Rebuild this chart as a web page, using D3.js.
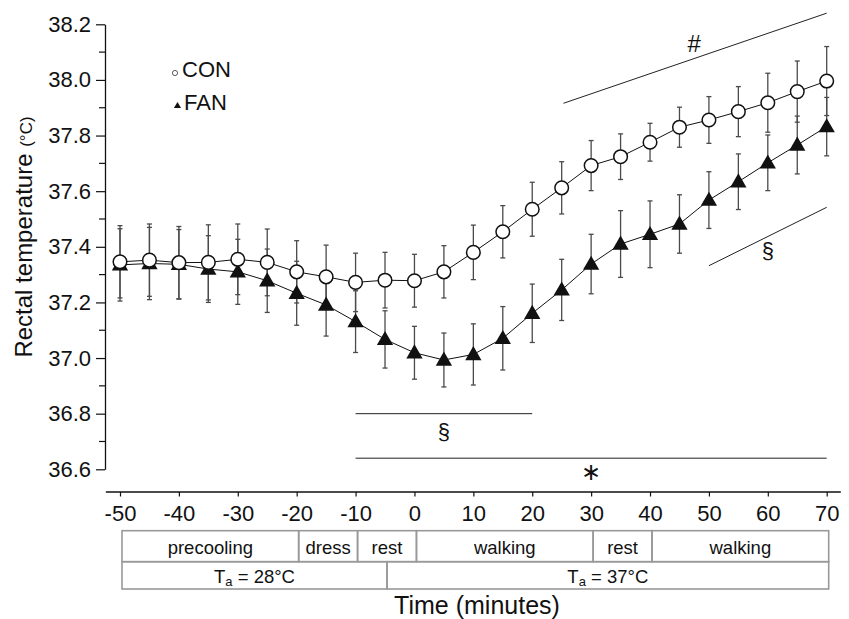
<!DOCTYPE html>
<html>
<head>
<meta charset="utf-8">
<script src="https://cdn.jsdelivr.net/npm/d3@7"></script>
<style>
  body { margin: 0; background: #fff; }
  svg { font-family: "Liberation Sans", Arial, sans-serif; }
</style>
</head>
<body>
<div id="chart"></div>
<script>
// minutes relative to start of walking
const times = [-50, -45, -40, -35, -30, -25, -20, -15, -10, -5, 0, 5, 10, 15, 20, 25, 30, 35, 40, 45, 50, 55, 60, 65, 70]
const conMean = [37.346, 37.352, 37.343, 37.344, 37.355, 37.344, 37.31, 37.292, 37.272, 37.28, 37.278, 37.31, 37.38,
    37.454, 37.535, 37.612, 37.692, 37.724, 37.776, 37.83, 37.856, 37.886, 37.918, 37.958, 37.996]
const conSd = [0.13, 0.13, 0.13, 0.135, 0.127, 0.12, 0.112, 0.114, 0.105, 0.1, 0.095, 0.094, 0.098,
    0.094, 0.097, 0.094, 0.09, 0.082, 0.068, 0.072, 0.084, 0.09, 0.106, 0.11, 0.124]
const fanMean = [37.335, 37.34, 37.337, 37.32, 37.31, 37.278, 37.233, 37.191, 37.131, 37.067, 37.019, 36.993, 37.013,
    37.071, 37.161, 37.245, 37.338, 37.41, 37.445, 37.482, 37.568, 37.634, 37.702, 37.766, 37.832]
const fanSd = [0.13, 0.13, 0.125, 0.12, 0.117, 0.114, 0.115, 0.112, 0.111, 0.103, 0.095, 0.097, 0.11,
    0.114, 0.105, 0.11, 0.107, 0.12, 0.12, 0.105, 0.102, 0.1, 0.1, 0.104, 0.105]

const xTicks = [-50, -40, -30, -20, -10, 0, 10, 20, 30, 40, 50, 60, 70]
const yTicks = [36.6, 36.8, 37.0, 37.2, 37.4, 37.6, 37.8, 38.0, 38.2]
const yMinorTicks = [36.7, 36.9, 37.1, 37.3, 37.5, 37.7, 37.9, 38.1]

// protocol phases (start, end, label)
const phaseStart = [-50, -20, -10, 0, 30, 40]
const phaseEnd = [-20, -10, 0, 30, 40, 70]
const phaseLabel = ["precooling", "dress", "rest", "walking", "rest", "walking"]
const ambStart = [-50, -5]
const ambEnd = [-5, 70]
const ambValue = ["28°C", "37°C"]

// significance markers: [t0, v0, t1, v1], symbol
const sigLines = [[-10, 36.8, 20, 36.8], [-10, 36.64, 70, 36.64], [25.3, 37.916, 70, 38.24], [50, 37.332, 70, 37.542]]
const sigSymbols = ["§", "∗", "#", "§"]
const sigSymbolAt = [[5, 36.71], [30, 36.56], [47.5, 38.1], [60, 37.36]]

const width = 849
const height = 619

const x = d3.scaleLinear().domain([-50, 70]).range([120, 826.7])
const y = d3.scaleLinear().domain([36.6, 38.2]).range([469.3, 24.3])

const svg = d3.select("#chart").append("svg")
    .attr("width", width)
    .attr("height", height)

// y axis
const yAxis = svg.append("g")
    .attr("class", "y-axis")
    .attr("transform", "translate(105,0)")
    .call(d3.axisLeft(y).tickValues(yTicks).tickFormat(d3.format(".1f")).tickSize(9).tickSizeOuter(0))
yAxis.select(".domain").attr("stroke", "#111").attr("stroke-width", 1.3)
yAxis.selectAll(".tick line").attr("stroke", "#111").attr("stroke-width", 1.2)
yAxis.selectAll(".tick text")
    .attr("x", -14)
    .style("font-size", "22px")
    .style("font-family", "Liberation Sans, Arial, sans-serif")
    .attr("fill", "#111")

svg.append("g")
    .selectAll("line")
    .data(yMinorTicks)
    .enter()
    .append("line")
    .attr("x1", 99).attr("x2", 105)
    .attr("y1", d => y(d)).attr("y2", d => y(d))
    .attr("stroke", "#111")
    .attr("stroke-width", 1.2)

// x axis (line slightly longer than data range), plain hyphen for negatives
const xAxis = svg.append("g")
    .attr("class", "x-axis")
    .attr("transform", "translate(0,492)")
    .call(d3.axisBottom(x).tickValues(xTicks).tickFormat(d => String(d)).tickSize(4.5).tickSizeOuter(0))
xAxis.select(".domain")
    .attr("d", `M${x(-52.4)},0H${x(72.4)}`)
    .attr("stroke", "#111")
    .attr("stroke-width", 1.3)
xAxis.selectAll(".tick line").attr("stroke", "#111").attr("stroke-width", 1.2)
xAxis.selectAll(".tick text")
    .attr("y", 13)
    .style("font-size", "22px")
    .style("font-family", "Liberation Sans, Arial, sans-serif")
    .attr("fill", "#111")

// axis titles
const yTitle = svg.append("text")
    .attr("transform", "translate(32,237) rotate(-90)")
    .style("text-anchor", "middle")
    .attr("fill", "#111")
yTitle.append("tspan").style("font-size", "24px").text("Rectal temperature ")
yTitle.append("tspan").style("font-size", "17px").text("(°C)")

svg.append("text")
    .attr("x", 477)
    .attr("y", 614)
    .style("text-anchor", "middle")
    .style("font-size", "25px")
    .attr("fill", "#111")
    .text("Time (minutes)")

// protocol table
const table = svg.append("g").attr("class", "protocol")
const rowTop = [530.7, 561.7]
const rowBottom = [561.7, 589]

table.selectAll("rect.phase")
    .data(phaseLabel)
    .enter()
    .append("rect")
    .attr("class", "phase")
    .attr("x", (d, i) => x(phaseStart[i]) + 2)
    .attr("y", rowTop[0])
    .attr("width", (d, i) => x(phaseEnd[i]) - x(phaseStart[i]))
    .attr("height", rowBottom[0] - rowTop[0])
    .attr("fill", "none")
    .attr("stroke", "#999")
    .attr("stroke-width", 1.6)

table.selectAll("text.phase")
    .data(phaseLabel)
    .enter()
    .append("text")
    .attr("class", "phase")
    .attr("x", (d, i) => (x(phaseStart[i]) + x(phaseEnd[i])) / 2 + 2)
    .attr("y", 554)
    .style("text-anchor", "middle")
    .style("font-size", "18.5px")
    .attr("fill", "#111")
    .text(d => d)

table.selectAll("rect.amb")
    .data(ambValue)
    .enter()
    .append("rect")
    .attr("class", "amb")
    .attr("x", (d, i) => x(ambStart[i]) + 2)
    .attr("y", rowTop[1])
    .attr("width", (d, i) => x(ambEnd[i]) - x(ambStart[i]))
    .attr("height", rowBottom[1] - rowTop[1])
    .attr("fill", "none")
    .attr("stroke", "#999")
    .attr("stroke-width", 1.6)

const ambText = table.selectAll("text.amb")
    .data(ambValue)
    .enter()
    .append("text")
    .attr("class", "amb")
    .attr("x", (d, i) => (x(ambStart[i]) + x(ambEnd[i])) / 2 + 2)
    .attr("y", 583)
    .style("text-anchor", "middle")
    .style("font-size", "18.5px")
    .attr("fill", "#111")
ambText.append("tspan").text("T")
ambText.append("tspan").attr("dy", 3).style("font-size", "13px").text("a")
ambText.append("tspan").attr("dy", -3).text(d => " = " + d)

// significance lines and symbols
const sig = svg.append("g").attr("class", "sig")
sig.selectAll("line")
    .data(sigLines)
    .enter()
    .append("line")
    .attr("x1", d => x(d[0])).attr("y1", d => y(d[1]))
    .attr("x2", d => x(d[2])).attr("y2", d => y(d[3]))
    .attr("stroke", "#222")
    .attr("stroke-width", 1)

sig.selectAll("text")
    .data(sigSymbols)
    .enter()
    .append("text")
    .attr("x", (d, i) => x(sigSymbolAt[i][0]))
    .attr("y", (d, i) => y(sigSymbolAt[i][1]))
    .style("text-anchor", "middle")
    .style("font-size", (d, i) => i === 1 ? "24px" : (i === 2 ? "24px" : "22px"))
    .style("font-family", (d, i) => i === 1 ? "DejaVu Sans, sans-serif" : "Liberation Sans, Arial, sans-serif")
    .attr("fill", "#111")
    .text(d => d)

// series
const series = [
    {name: "FAN", mean: fanMean, sd: fanSd},
    {name: "CON", mean: conMean, sd: conSd}
]

const line = d3.line()
    .x((d, i) => x(times[i]))
    .y(d => y(d))

// error bars first
series.forEach(s => {
    const g = svg.append("g").attr("class", "err " + s.name)
    const eb = g.selectAll("g")
        .data(s.mean)
        .enter()
        .append("g")
    eb.append("line")
        .attr("x1", (d, i) => x(times[i])).attr("x2", (d, i) => x(times[i]))
        .attr("y1", (d, i) => y(d + s.sd[i])).attr("y2", (d, i) => y(d - s.sd[i]))
    eb.append("line")
        .attr("x1", (d, i) => x(times[i]) - 2.5).attr("x2", (d, i) => x(times[i]) + 2.5)
        .attr("y1", (d, i) => y(d + s.sd[i])).attr("y2", (d, i) => y(d + s.sd[i]))
    eb.append("line")
        .attr("x1", (d, i) => x(times[i]) - 2.5).attr("x2", (d, i) => x(times[i]) + 2.5)
        .attr("y1", (d, i) => y(d - s.sd[i])).attr("y2", (d, i) => y(d - s.sd[i]))
    g.selectAll("line")
        .attr("stroke", "#4a4a4a")
        .attr("stroke-width", 1.3)
})

series.forEach(s => {
    svg.append("path")
        .datum(s.mean)
        .attr("d", line)
        .attr("fill", "none")
        .attr("stroke", "#111")
        .attr("stroke-width", 1)
})

const tri = d3.symbol().type(d3.symbolTriangle).size(115)

svg.append("g")
    .selectAll("path")
    .data(fanMean)
    .enter()
    .append("path")
    .attr("d", tri)
    .attr("transform", (d, i) => `translate(${x(times[i])},${y(d) + 1})`)
    .attr("fill", "#111")

svg.append("g")
    .selectAll("circle")
    .data(conMean)
    .enter()
    .append("circle")
    .attr("cx", (d, i) => x(times[i]))
    .attr("cy", d => y(d))
    .attr("r", 6.8)
    .attr("fill", "#fff")
    .attr("stroke", "#111")
    .attr("stroke-width", 1.5)

// legend
const legend = svg.append("g").attr("class", "legend")
legend.append("circle")
    .attr("cx", 175).attr("cy", 73)
    .attr("r", 2.6)
    .attr("fill", "#fff")
    .attr("stroke", "#333")
    .attr("stroke-width", 0.8)
legend.append("path")
    .attr("d", d3.symbol().type(d3.symbolTriangle).size(22))
    .attr("transform", "translate(177.5,106)")
    .attr("fill", "#111")
legend.selectAll("text")
    .data(["CON", "FAN"])
    .enter()
    .append("text")
    .attr("x", (d, i) => i === 0 ? 182 : 184)
    .attr("y", (d, i) => i === 0 ? 77 : 110)
    .style("font-size", "22px")
    .attr("fill", "#111")
    .text(d => d)
</script>
</body>
</html>
